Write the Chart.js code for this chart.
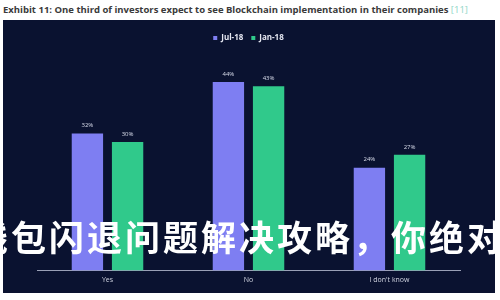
<!DOCTYPE html>
<html>
<head>
<meta charset="utf-8">
<script src="https://cdn.jsdelivr.net/npm/chart.js@4"></script>
<style>
  html, body { margin: 0; padding: 0; background: #fff; width: 500px; height: 300px; overflow: hidden; position: relative; }
  #title { position: absolute; left: 3px; top: 3px; font: bold 9.5px "Open Sans", sans-serif; color: #3a3a3a; white-space: nowrap; }
  #title span { color: #8ed6c6; font-weight: normal; }
  #panel { position: absolute; left: 3px; top: 20px; width: 492px; height: 273px; background: #0a1230; }
  #mark { position: absolute; left: -27px; top: 213px; font: bold 35px "Noto Sans CJK SC", sans-serif; letter-spacing: 3px; color: #fff; white-space: nowrap; line-height: 46px; }
</style>
</head>
<body>
<div id="title">Exhibit 11: One third of investors expect to see Blockchain implementation in their companies <span>[11]</span></div>
<div id="panel"><canvas id="chart"></canvas></div>
<div id="mark">钱包闪退问题解决攻略，你绝对</div>
<script>
const categories = ['Yes', 'No', "I don't know"];
const jul18 = [32, 44, 24];
const jan18 = [30, 43, 27];

// labels on top of the bars
const valueLabels = {
  id: 'valueLabels',
  afterDatasetsDraw(chart) {
    const ctx = chart.ctx;
    ctx.save();
    ctx.font = '6px "Open Sans", sans-serif';
    ctx.fillStyle = '#d8dcea';
    ctx.textAlign = 'center';
    ctx.textBaseline = 'middle';
    chart.data.datasets.forEach((ds, i) => {
      chart.getDatasetMeta(i).data.forEach((bar, j) => {
        ctx.fillText(ds.data[j] + '%', bar.x, bar.y - 8);
      });
    });
    ctx.restore();
  }
};

new Chart(document.getElementById('chart'), {
  type: 'bar',
  data: {
    labels: categories,
    datasets: [
      { label: 'Jul-18', data: jul18, backgroundColor: '#7e7ef2' },
      { label: 'Jan-18', data: jan18, backgroundColor: '#30c98b' }
    ]
  },
  options: {
    responsive: true,
    maintainAspectRatio: false,
    animation: false,
    categoryPercentage: 0.57,
    barPercentage: 0.78,
    layout: { padding: { left: 34, right: 35, top: 6, bottom: 4 } },
    plugins: {
      legend: {
        labels: {
          boxWidth: 4, boxHeight: 4, padding: 8,
          color: '#e4e6f0',
          font: { size: 8, weight: 'bold', family: '"Open Sans", sans-serif' }
        }
      },
      tooltip: { enabled: false }
    },
    scales: {
      x: {
        grid: { display: false, drawTicks: false },
        border: { color: '#9aa0b6' },
        ticks: { color: '#d0d4e0', font: { size: 7, family: '"Open Sans", sans-serif' }, padding: 5 }
      },
      y: { display: false, min: 0, max: 51 }
    }
  },
  plugins: [valueLabels]
});
</script>
</body>
</html>
